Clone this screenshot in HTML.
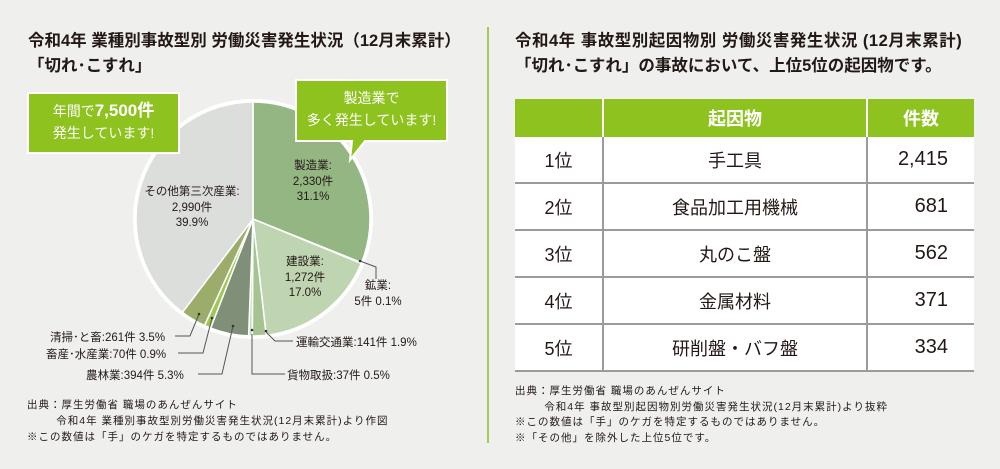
<!DOCTYPE html>
<html><head><meta charset="utf-8"><style>
body{margin:0;width:1000px;height:469px;background:#eff0ee;overflow:hidden;position:relative;font-family:"Liberation Sans","Noto Sans CJK JP",sans-serif;color:#231815}
.a{position:absolute;white-space:nowrap}
.t{font-size:16.5px;font-weight:bold}
.c{text-align:center;font-size:11.5px;line-height:15.5px}
.f{font-size:10.5px;line-height:16px;letter-spacing:1px}
table{position:absolute;left:515px;top:99px;width:459px;border-collapse:collapse}
td,th{height:45px;padding:0;font-size:18px;font-weight:normal;text-align:center}
th{background:#8dc21f;color:#fff;font-weight:bold;height:38px;border-left:2px solid #fff}
th:first-child{border-left:none}
td{background:#fff;border-bottom:2px solid #9e9a98;border-left:2px solid #9e9a98}
td:first-child{border-left:none}
td.n{text-align:right;padding-right:26px;font-size:20px}
</style></head><body>
<div class="a t" style="left:28px;top:27px">令和4年 業種別事故型別 労働災害発生状況（12月末累計）</div>
<div class="a t" style="left:28px;top:52px">「切れ･こすれ」</div>
<div class="a t" style="left:515px;top:27px;letter-spacing:0.5px">令和4年 事故型別起因物別 労働災害発生状況 (12月末累計)</div>
<div class="a t" style="left:515px;top:52px">「切れ･こすれ」の事故において、上位5位の起因物です。</div>
<div class="a" style="left:487px;top:27px;width:2px;height:416px;background:#a6c957"></div>

<svg class="a" style="left:0;top:0" width="480" height="400" id="s">
<circle cx="253" cy="219" r="120" fill="#fff"/>
<g id="pie"></g>
<g stroke="#555" stroke-width="1" fill="none">
<polyline points="360,261 376,267 376,279"/>
<polyline points="199,314 190,336 175,336"/>
<polyline points="212,318 203,353 178,353"/>
<polyline points="233,326 222,374 198,374"/>
<polyline points="252,334 252,374 285,374"/>
<polyline points="266,332 275,341 293,341"/>
</g>
<g fill="#333"><circle cx="360" cy="261" r="1.3"/><circle cx="199" cy="314" r="1.3"/><circle cx="212" cy="318" r="1.3"/><circle cx="233" cy="326" r="1.3"/><circle cx="252" cy="330" r="1.3"/><circle cx="266" cy="331" r="1.3"/></g>
<rect x="28" y="93" width="151" height="60" fill="#8dc21f" stroke="#fff" stroke-width="2"/>
<path d="M296 80 H447 V141 H365 L350 160 L352 141 H296 Z" fill="#8dc21f" stroke="#fff" stroke-width="2"/>
</svg>
<script>
var d=[[31.1,"#93b682"],[0.1,"#a9c59a"],[17.0,"#bfd5b1"],[1.9,"#a5c491"],[0.5,"#c8dbbd"],[5.3,"#7f8f78"],[0.9,"#a0c756"],[3.5,"#9cad6b"],[39.7,"#dcdedc"]];
var a=0,h="",cx=253,cy=219,r=117;
d.forEach(function(e){var a0=a/100*2*Math.PI;a+=e[0];var a1=a/100*2*Math.PI;
var x0=cx+r*Math.sin(a0),y0=cy-r*Math.cos(a0),x1=cx+r*Math.sin(a1),y1=cy-r*Math.cos(a1);
h+='<path d="M'+cx+' '+cy+' L'+x0+' '+y0+' A'+r+' '+r+' 0 '+(e[0]>50?1:0)+' 1 '+x1+' '+y1+' Z" fill="'+e[1]+'" stroke="#fff" stroke-width="1.5"/>';});
document.getElementById("pie").innerHTML=h;
</script>
<div class="a" style="left:28px;top:100px;width:151px;text-align:center;color:#fff;font-size:14px;line-height:22px">年間で<b style="font-size:17px">7,500件</b><br>発生しています!</div>
<div class="a" style="left:296px;top:87px;width:151px;text-align:center;color:#fff;font-size:14px;line-height:22px">製造業で<br>多く発生しています!</div>
<div class="a c" style="left:273px;top:159px;width:80px">製造業:<br>2,330件<br>31.1%</div>
<div class="a c" style="left:132px;top:185px;width:120px">その他第三次産業:<br>2,990件<br>39.9%</div>
<div class="a c" style="left:265px;top:255px;width:80px">建設業:<br>1,272件<br>17.0%</div>
<div class="a c" style="left:338px;top:279px;width:80px">鉱業:<br>5件 0.1%</div>
<div class="a" style="font-size:11.5px;left:50px;top:329px">清掃･と畜:261件 3.5%</div>
<div class="a" style="font-size:11.5px;left:46px;top:346px">畜産･水産業:70件 0.9%</div>
<div class="a" style="font-size:11.5px;left:86px;top:367px">農林業:394件 5.3%</div>
<div class="a" style="font-size:11.5px;left:296px;top:334px">運輸交通業:141件 1.9%</div>
<div class="a" style="font-size:11.5px;left:287px;top:367px">貨物取扱:37件 0.5%</div>
<div class="a f" style="left:27px;top:397px">出典：厚生労働省 職場のあんぜんサイト<br>&emsp;&emsp;&ensp;令和4年 業種別事故型別労働災害発生状況(12月末累計)より作図<br>※この数値は「手」のケガを特定するものではありません。</div>
<div class="a f" style="left:515px;top:384px;line-height:15.5px">出典：厚生労働省 職場のあんぜんサイト<br>&emsp;&emsp;&ensp;令和4年 事故型別起因物別労働災害発生状況(12月末累計)より抜粋<br>※この数値は「手」のケガを特定するものではありません。<br>※「その他」を除外した上位5位です。</div>
<table>
<tr><th style="width:87px"></th><th style="width:262px">起因物</th><th>件数</th></tr>
<tr><td>1位</td><td>手工具</td><td class="n">2,415</td></tr>
<tr><td>2位</td><td>食品加工用機械</td><td class="n">681</td></tr>
<tr><td>3位</td><td>丸のこ盤</td><td class="n">562</td></tr>
<tr><td>4位</td><td>金属材料</td><td class="n">371</td></tr>
<tr><td>5位</td><td>研削盤・バフ盤</td><td class="n">334</td></tr>
</table>
</body></html>
